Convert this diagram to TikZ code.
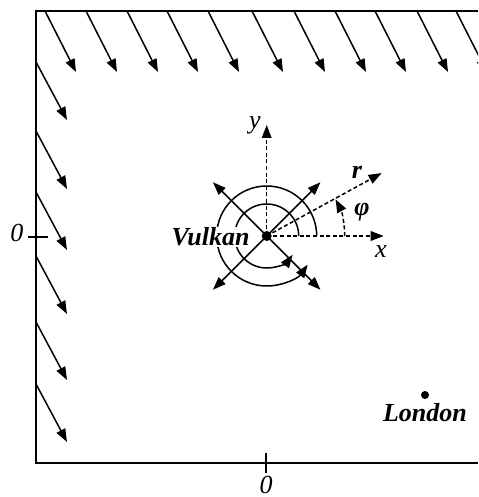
\documentclass[tikz,border=0pt]{standalone}
\usepackage{fontspec}
\setmainfont{Liberation Serif}
\usetikzlibrary{arrows.meta}

\begin{document}
\begin{tikzpicture}[
    x=0.5pt, y=0.5pt,
    frame/.style={line width=1pt},
    wind/.style={line width=0.75pt, -{Triangle[length=6.5pt,width=4.8pt]}},
    wave/.style={line width=0.75pt, -{Triangle[length=6.5pt,width=4.8pt]}},
    axis/.style={line width=0.75pt, dash pattern=on 2pt off 1.3pt, -{Triangle[length=6.5pt,width=4.8pt]}},
    lbl/.style={font=\fontsize{13}{15}\selectfont\bfseries\itshape, inner sep=1pt},
    axlbl/.style={font=\fontsize{13}{15}\selectfont\itshape, inner sep=1pt}
]
\clip (0,0) rectangle (478,497);

% frame with ticks
\draw[frame] (478,486) -- (36,486) -- (36,34) -- (478,34);
\draw[frame] (28,260) -- (48,260);
\draw[frame] (266,24) -- (266,44);
\node[axlbl] (zeroy) at (17,264) {0};
\node[axlbl] (zerox) at (266,12) {0};

% wind coming in from the edges
\foreach \px in {45,86,127,167,208,252,294,335,375,417,456}
    \draw[wind] (\px,486) -- ++(31,-61);
\foreach \py in {435,366,305,241,175,113}
    \draw[wind] (36,\py) -- ++(31,-58);

% the source
\coordinate (vulkan) at (266.7,261);
\draw[wave] (vulkan) ++(32,0) arc[start angle=0, end angle=324, radius=32];
\draw[wave] (vulkan) ++(50,0) arc[start angle=0, end angle=325, radius=50];
\foreach \a in {45,135,225,315}
    \draw[wave] (vulkan) -- ++(\a:76);

% polar axes
\path (vulkan) ++(117,0) coordinate (xtip);
\path (vulkan) ++(0,111) coordinate (ytip);
\path (vulkan) ++(28.7:131) coordinate (rtip);
\draw[axis] (vulkan) -- (xtip);
\draw[axis] (vulkan) -- (ytip);
\draw[axis] (vulkan) -- (rtip);
\draw[axis] (vulkan) ++(78,0) arc[start angle=0, end angle=28, radius=78];
\node[axlbl] (xlbl) at (381,245) {x};
\node[axlbl] (ylbl) at (255,372) {y};
\node[lbl] (rlbl) at (357,325) {r};
\node[lbl] (philbl) at (362,285) {φ};

\fill (vulkan) circle (5);
\node[lbl, anchor=east, fill=white, inner sep=0.5pt] (vlbl) at (251,260) {Vulkan};

% the city
\coordinate (london) at (425,102);
\fill (london) circle (4);
\node[lbl] (llbl) at (425,84) {London};
\end{tikzpicture}
\end{document}
